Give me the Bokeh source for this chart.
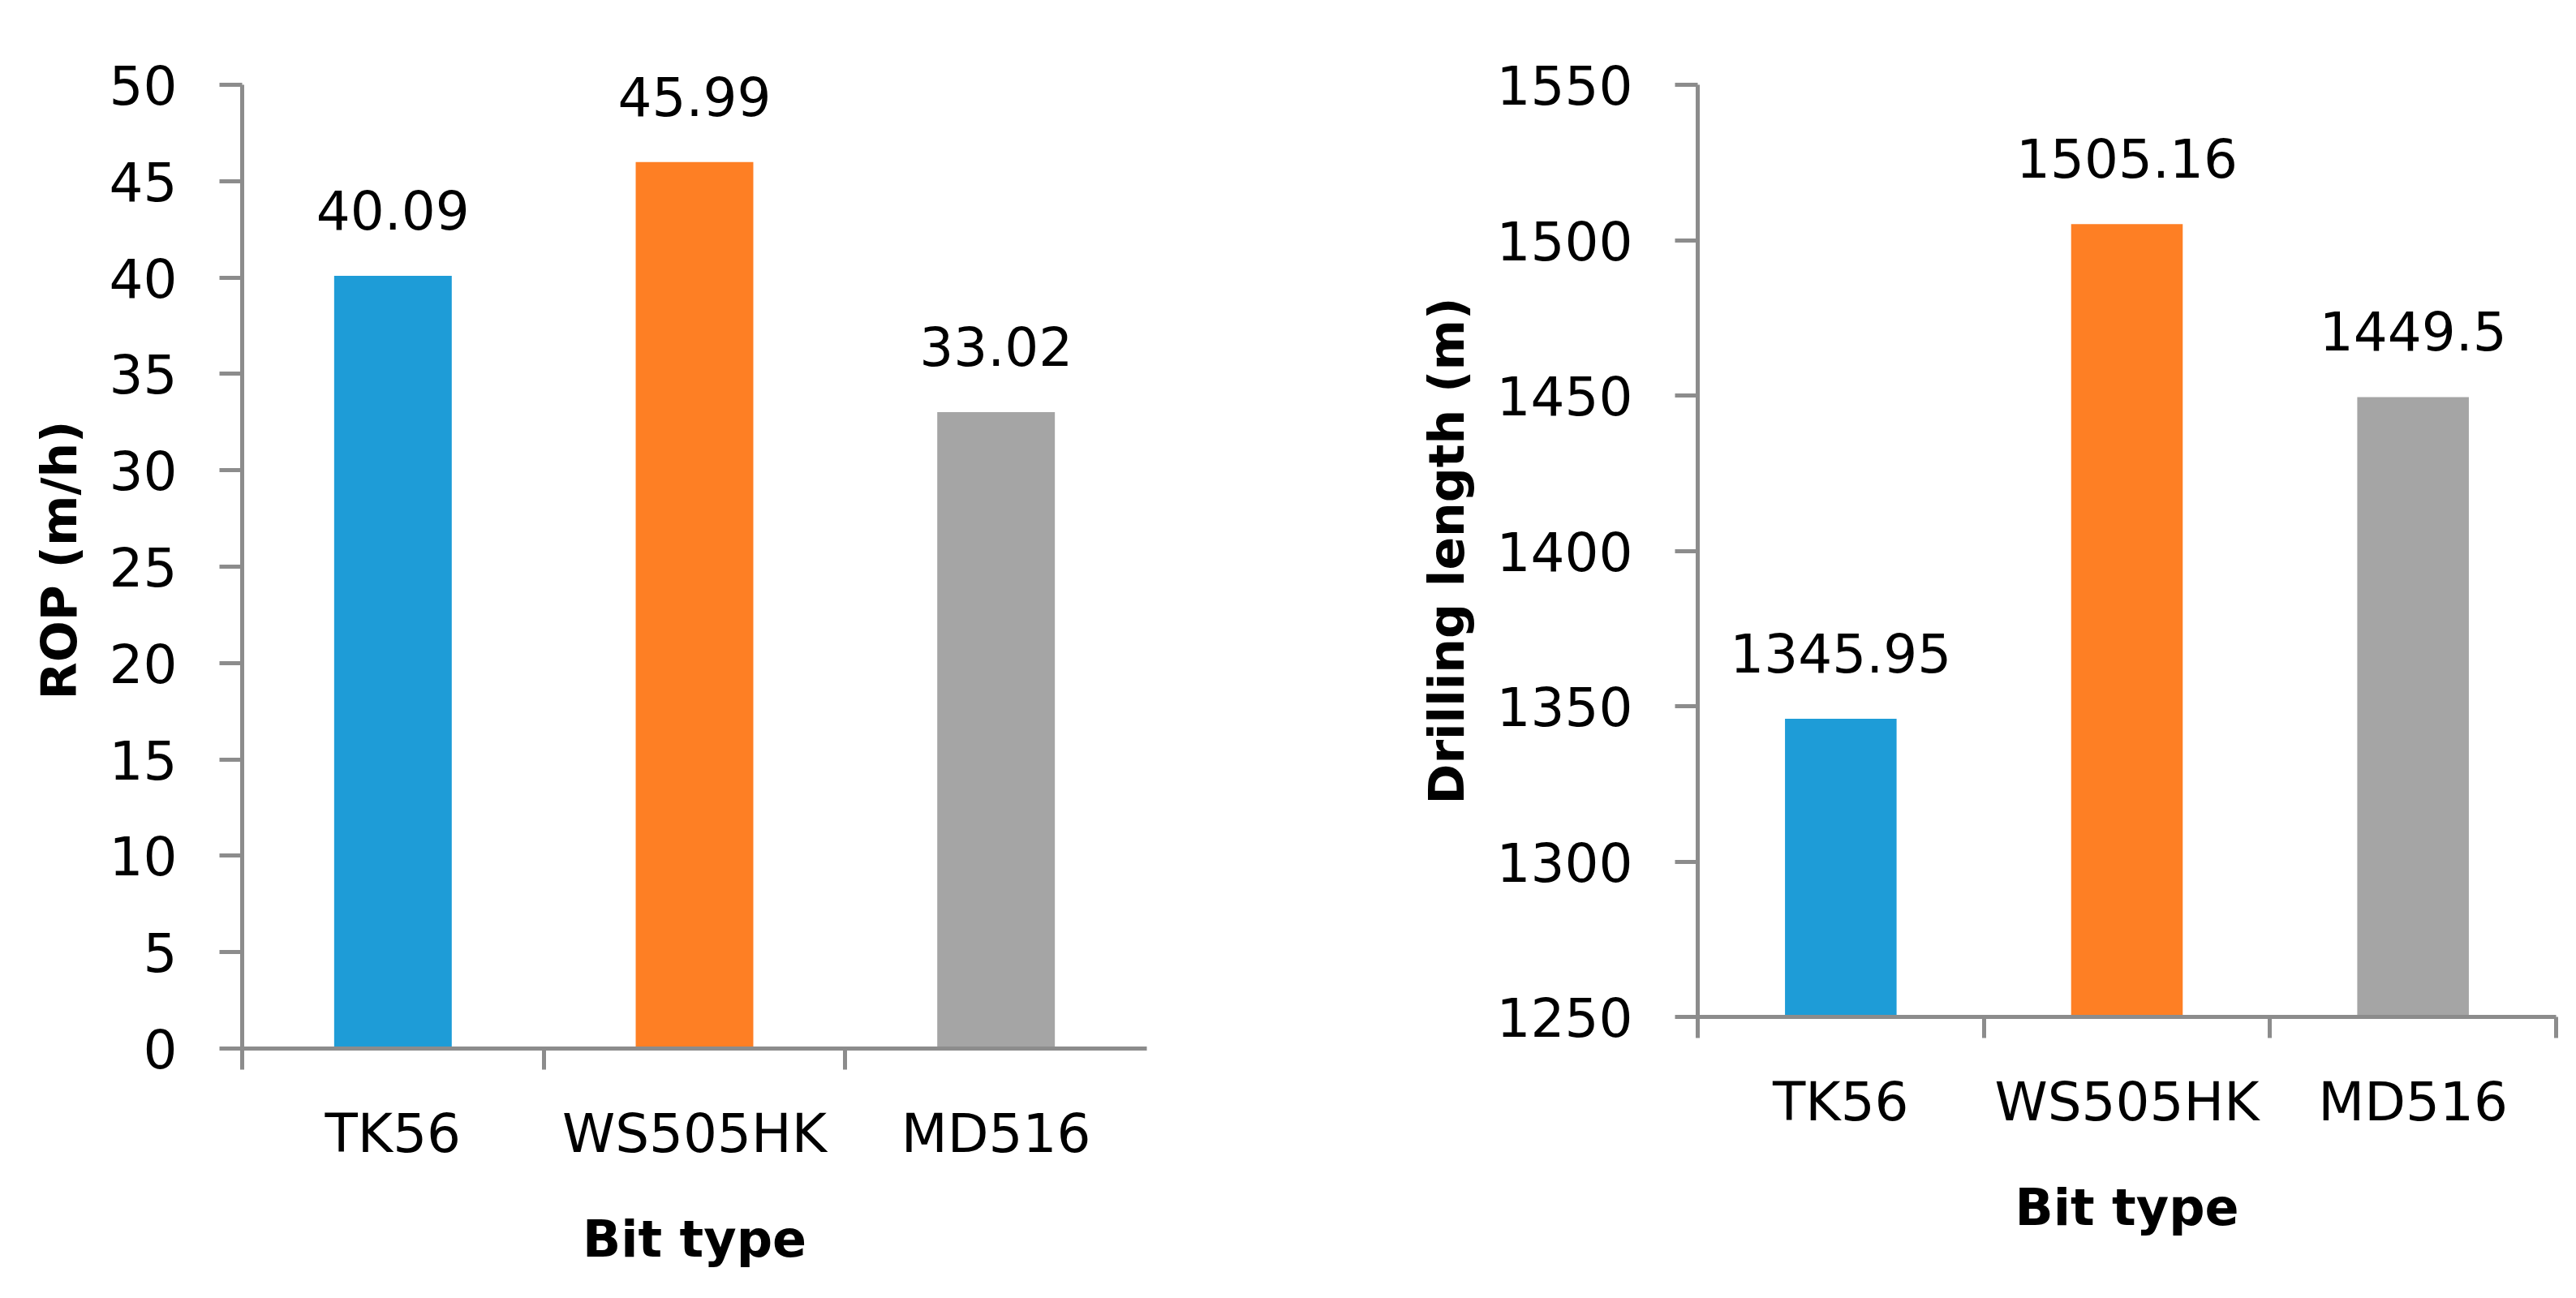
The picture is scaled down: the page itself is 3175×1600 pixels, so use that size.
from bokeh.plotting import figure
from bokeh.models import Range1d, FixedTicker, ColumnDataSource, LabelSet
from bokeh.core.properties import value
from bokeh.embed import file_html
from bokeh.resources import INLINE

# ---- data ----
bit_types = ["TK56", "WS505HK", "MD516"]
rop_values = [40.09, 45.99, 33.02]
rop_labels = ["40.09", "45.99", "33.02"]
length_values = [1345.95, 1505.16, 1449.5]
length_labels = ["1345.95", "1505.16", "1449.5"]
bar_colors = ["#1E9CD7", "#FE7F24", "#A5A5A5"]
rop_ticks = [0, 5, 10, 15, 20, 25, 30, 35, 40, 45, 50]
length_ticks = [1250, 1300, 1350, 1400, 1450, 1500, 1550]

AXIS_COLOR = "#8C8C8C"
FONT = "DejaVu Sans"
AXIS_TOP = 104        # pixel position of the top tick


def make_chart(values, labels, ticks, ytitle, width, height, frame_left,
               frame_right, baseline, frame_top, boundary_ticks):
    n = len(bit_types)
    xs = [i + 0.5 for i in range(n)]
    lo, hi = ticks[0], ticks[-1]
    px_per_unit = (baseline - AXIS_TOP) / (hi - lo)
    y_top = hi + (AXIS_TOP - frame_top) / px_per_unit
    p = figure(width=width, height=height,
               x_range=Range1d(0, n), y_range=Range1d(lo, y_top),
               output_backend="svg", toolbar_location=None,
               min_border_left=frame_left, min_border_right=width - frame_right,
               min_border_top=frame_top, min_border_bottom=height - baseline)
    p.outline_line_color = None
    p.background_fill_color = "white"
    p.border_fill_color = "white"
    p.xgrid.grid_line_color = None
    p.ygrid.grid_line_color = None

    src = ColumnDataSource(dict(x=xs, top=values, color=bar_colors, label=labels))
    p.vbar(x="x", top="top", bottom=lo, width=0.39, color="color",
           line_color=None, source=src)
    p.add_layout(LabelSet(x="x", y="top", text="label", source=src,
                          y_offset=57, text_align="center",
                          text_baseline="alphabetic", text_font=value(FONT),
                          text_font_size="66px", text_color="#000000"))

    # y axis
    ya = p.yaxis[0]
    ya.ticker = FixedTicker(ticks=ticks)
    ya.bounds = (lo, hi)
    ya.axis_line_color = AXIS_COLOR
    ya.axis_line_width = 5
    ya.major_tick_line_color = AXIS_COLOR
    ya.major_tick_line_width = 5
    ya.major_tick_out = 28
    ya.major_tick_in = 0
    ya.minor_tick_line_color = None
    ya.major_label_standoff = 52
    ya.major_label_text_font = FONT
    ya.major_label_text_font_size = "66px"
    ya.major_label_text_color = "#000000"
    ya.axis_label = ytitle
    ya.axis_label_text_font = FONT
    ya.axis_label_text_font_size = "60px"
    ya.axis_label_text_font_style = "bold"
    ya.axis_label_text_color = "#000000"
    ya.axis_label_standoff = 24

    # x axis
    xa = p.xaxis[0]
    xa.ticker = FixedTicker(ticks=xs, minor_ticks=boundary_ticks)
    xa.major_label_overrides = {x: c for x, c in zip(xs, bit_types)}
    xa.axis_line_color = AXIS_COLOR
    xa.axis_line_width = 5
    xa.major_tick_line_color = None
    xa.major_tick_out = 0
    xa.major_tick_in = 0
    xa.minor_tick_line_color = AXIS_COLOR
    xa.minor_tick_line_width = 5
    xa.minor_tick_out = 26
    xa.minor_tick_in = 0
    xa.major_label_standoff = 40
    xa.major_label_text_font = FONT
    xa.major_label_text_font_size = "66px"
    xa.major_label_text_color = "#000000"
    xa.axis_label = "Bit type"
    xa.axis_label_text_font = FONT
    xa.axis_label_text_font_size = "62px"
    xa.axis_label_text_font_style = "bold"
    xa.axis_label_text_color = "#000000"
    xa.axis_label_standoff = 52
    return p


p1 = make_chart(rop_values, rop_labels, rop_ticks, "ROP (m/h)",
                1600, 1600, 298, 1413, 1292, 88, [0, 1, 2])
p2 = make_chart(length_values, length_labels, length_ticks, "Drilling length (m)",
                1570, 1600, 492, 1550, 1253, 104, [0, 1, 2, 3])

# two independent roots placed side by side (no frame alignment between them)
# (bokeh prepends "{% extends base %}" to a string template itself)
template = """
{% block postamble %}
<style>
html, body { margin: 0 !important; padding: 0 !important; }
body { display: flex !important; flex-direction: row !important; align-items: flex-start !important; }
</style>
{% endblock %}
"""

p = [p1, p2]
open("out.html", "w").write(file_html(p, INLINE, template=template))
